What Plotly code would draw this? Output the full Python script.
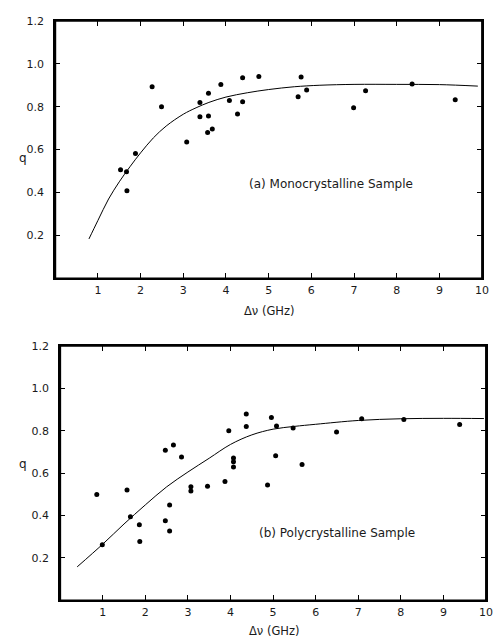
import plotly.graph_objects as go

# ---- data (a) monocrystalline ----
a_x = [2.27, 2.49, 3.08, 3.39, 3.39, 3.59, 3.59, 3.57, 3.68, 3.88, 4.08, 4.27, 4.39, 4.39,
       4.77, 5.69, 5.76, 5.89, 6.99, 7.27, 8.36, 9.37, 1.88, 1.53, 1.67, 1.68]
a_y = [0.893, 0.80, 0.636, 0.82, 0.753, 0.863, 0.757, 0.68, 0.696, 0.904, 0.829, 0.766, 0.935, 0.823,
       0.941, 0.846, 0.939, 0.878, 0.795, 0.874, 0.906, 0.832, 0.582, 0.506, 0.497, 0.408]
a_fit_x = [0.79, 1.0, 1.25, 1.5, 1.75, 2.0, 2.3, 2.6, 3.0, 3.3, 3.6, 4.0, 4.5, 5.0, 5.6, 6.2, 7.0, 8.0, 9.0, 9.9]
a_fit_y = [0.184, 0.27, 0.37, 0.45, 0.52, 0.585, 0.655, 0.71, 0.765, 0.795, 0.82, 0.845, 0.865, 0.88,
           0.893, 0.900, 0.904, 0.904, 0.903, 0.896]

# ---- data (b) polycrystalline ----
b_x = [2.47, 2.66, 2.85, 3.96, 4.07, 4.07, 4.07, 4.37, 4.37, 4.96, 5.08, 5.06, 5.47, 5.68, 6.49, 7.08,
       8.07, 9.38, 0.86, 0.99, 1.57, 1.65, 1.86, 1.87, 2.47, 2.57, 2.57, 3.07, 3.07, 3.46, 3.87, 4.87]
b_y = [0.707, 0.732, 0.676, 0.80, 0.671, 0.653, 0.629, 0.879, 0.819, 0.862, 0.822, 0.682, 0.812, 0.64,
       0.794, 0.856, 0.853, 0.829, 0.499, 0.262, 0.52, 0.394, 0.357, 0.278, 0.375, 0.45, 0.327, 0.536,
       0.515, 0.538, 0.56, 0.544]
b_fit_x = [0.40, 1.0, 1.5, 2.0, 2.5, 3.0, 3.5, 4.0, 4.5, 5.0, 5.5, 6.0, 7.0, 8.0, 9.0, 9.95]
b_fit_y = [0.158, 0.265, 0.36, 0.45, 0.535, 0.605, 0.67, 0.735, 0.78, 0.807, 0.82, 0.83, 0.848, 0.856,
           0.858, 0.857]

x_ticks = [1, 2, 3, 4, 5, 6, 7, 8, 9, 10]
y_ticks = [0.2, 0.4, 0.6, 0.8, 1.0, 1.2]
y_ticktext = ["0.2", "0.4", "0.6", "0.8", "1.0", "1.2"]

W, H = 497, 640
FONT = "DejaVu Sans, Liberation Sans, sans-serif"
TXT = "#1a1a1a"

fig = go.Figure()
fig.add_trace(go.Scatter(x=a_fit_x, y=a_fit_y, mode="lines", line=dict(color="black", width=1),
                         xaxis="x", yaxis="y", showlegend=False, line_shape="spline"))
fig.add_trace(go.Scatter(x=a_x, y=a_y, mode="markers", marker=dict(color="black", size=5),
                         xaxis="x", yaxis="y", showlegend=False))
fig.add_trace(go.Scatter(x=b_fit_x, y=b_fit_y, mode="lines", line=dict(color="black", width=1),
                         xaxis="x2", yaxis="y2", showlegend=False, line_shape="spline"))
fig.add_trace(go.Scatter(x=b_x, y=b_y, mode="markers", marker=dict(color="black", size=5),
                         xaxis="x2", yaxis="y2", showlegend=False))

def xax(domain, anchor):
    return dict(domain=domain, anchor=anchor, range=[0, 10], tickvals=x_ticks, ticks="inside",
                ticklen=5, tickwidth=1, tickcolor="black", showline=True, linecolor="black",
                linewidth=2, mirror="ticks", showgrid=False, zeroline=False,
                tickfont=dict(size=11, color=TXT, family=FONT), ticklabelstandoff=0)

def yax(domain, anchor):
    return dict(domain=domain, anchor=anchor, range=[0, 1.2], tickvals=y_ticks, ticktext=y_ticktext,
                ticks="inside", ticklen=5, tickwidth=1, tickcolor="black", showline=True,
                linecolor="black", linewidth=2, mirror="ticks", showgrid=False, zeroline=False,
                tickfont=dict(size=11, color=TXT, family=FONT), ticklabelstandoff=7)

def px2x(p):
    return p / W

def py2y(p):
    return 1 - p / H

frames = [
    dict(type="rect", xref="x domain", yref="y domain", x0=0, x1=1, y0=0, y1=1,
         line=dict(color="black", width=2), layer="above"),
    dict(type="rect", xref="x2 domain", yref="y2 domain", x0=0, x1=1, y0=0, y1=1,
         line=dict(color="black", width=2), layer="above"),
]

fig.update_layout(
    width=W, height=H, margin=dict(l=0, r=0, t=0, b=0),
    paper_bgcolor="white", plot_bgcolor="white",
    xaxis=xax([px2x(56), px2x(489)], "y"),
    yaxis=yax([py2y(275), py2y(15)], "x"),
    xaxis2=xax([px2x(61), px2x(493)], "y2"),
    yaxis2=yax([py2y(600), py2y(343)], "x2"),
    shapes=frames,
    annotations=[
        dict(text="(a) Monocrystalline Sample", x=6.45, y=0.44, xref="x", yref="y", showarrow=False,
             font=dict(size=12, color=TXT, family=FONT)),
        dict(text="(b) Polycrystalline Sample", x=6.5, y=0.316, xref="x2", yref="y2", showarrow=False,
             font=dict(size=12, color=TXT, family=FONT)),
        dict(text="q", x=px2x(17), y=py2y(144), xref="paper", yref="paper", showarrow=False,
             font=dict(size=12, color=TXT, family=FONT)),
        dict(text="q", x=px2x(17), y=py2y(471), xref="paper", yref="paper", showarrow=False,
             font=dict(size=12, color=TXT, family=FONT)),
        dict(text="Δν (GHz)", x=px2x(273), y=py2y(308), xref="paper", yref="paper", showarrow=False,
             font=dict(size=11.5, color=TXT, family=FONT)),
        dict(text="Δν (GHz)", x=px2x(278), y=0, yanchor="bottom", xref="paper", yref="paper",
             showarrow=False, font=dict(size=11.5, color=TXT, family=FONT)),
    ],
)

fig.write_html("out.html")
